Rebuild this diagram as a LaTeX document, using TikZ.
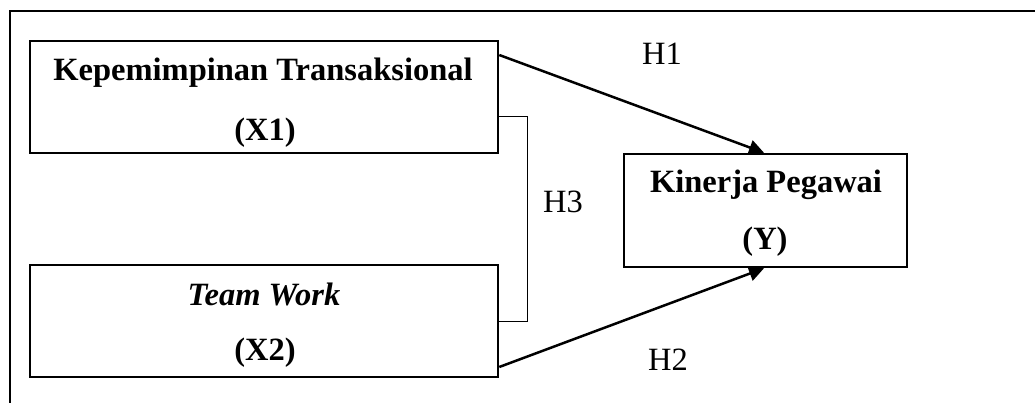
\documentclass[tikz,border=0pt]{standalone}
\usepackage{fontspec}
\setmainfont{Liberation Serif}
\usetikzlibrary{arrows.meta}
\begin{document}
\begin{tikzpicture}[x=1pt,y=-1pt,
  box/.style={draw,line width=2.5pt,inner sep=0pt},
  bt/.style={font=\fontsize{32.5}{38}\selectfont\bfseries,inner sep=0pt},
  lab/.style={font=\fontsize{32.5}{38}\selectfont,inner sep=0pt},
  arr/.style={line width=2.5pt,-{Triangle[length=15pt,width=15pt]}}]
\useasboundingbox (0,0) rectangle (1035,403);
% outer frame (top and left)
\draw[line width=2.5pt] (10,403) -- (10,11) -- (1035,11);
% boxes
\node[box,minimum width=468pt,minimum height=112pt] (x1) at (264,97) {};
\node[box,minimum width=468pt,minimum height=112pt] (x2) at (264,321) {};
\node[box,minimum width=283pt,minimum height=113pt] (y) at (765.5,210.5) {};
% box texts
\node[bt] (t1a) at (263,73) {Kepemimpinan Transaksional};
\node[bt] (t1b) at (265,133) {(X1)};
\node[bt,font=\fontsize{32.5}{38}\selectfont\bfseries\itshape] (t2a) at (264,294) {Team Work};
\node[bt] (t2b) at (265,353) {(X2)};
\node[bt] (t3a) at (766,185) {Kinerja Pegawai};
\node[bt] (t3b) at (765,242) {(Y)};
% labels
\node[lab] (h1) at (662,54) {H1};
\node[lab] (h2) at (668,360) {H2};
\node[lab] (h3) at (563,202) {H3};
% bracket H3
\coordinate (b1) at (x1.east |- 0,116);
\coordinate (b2) at (x2.east |- 0,321);
\draw[line width=0.8pt] (b1) -- (527,116) -- (527,321) -- (b2);
% arrows
\coordinate (a1) at (x1.east |- 0,55);
\coordinate (a2) at (x2.east |- 0,367);
\draw[arr] (a1) -- (y.north -| 764,0);
\draw[arr] (a2) -- (y.south -| 764,0);
\end{tikzpicture}
\end{document}
